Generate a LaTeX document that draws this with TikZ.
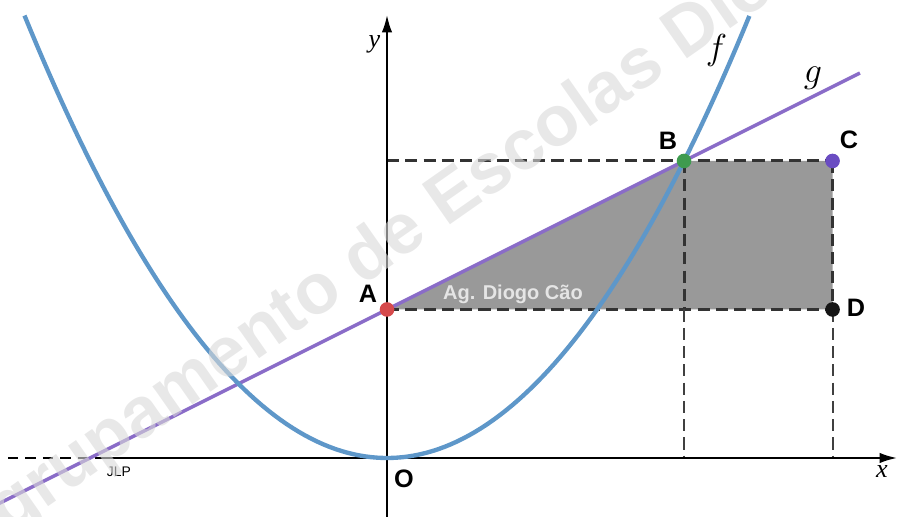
\documentclass[tikz,border=0pt]{standalone}
\usepackage{fontspec}
\setsansfont{Liberation Sans}
\newfontfamily\timesfont{Liberation Serif}
\usepackage{xcolor}
\usepackage{tikz}
\usetikzlibrary{arrows.meta,positioning}
\definecolor{curvef}{HTML}{5E97C9}
\definecolor{lineg}{HTML}{8A6CC8}
\definecolor{ptA}{HTML}{D64A4C}
\definecolor{ptB}{HTML}{3E9B4F}
\definecolor{ptC}{HTML}{6A4CC2}
\definecolor{ptD}{HTML}{151515}

\begin{document}
\begin{tikzpicture}[
          x=3cm, y=3cm,
          lbl/.style={font=\fontsize{14.5}{16}\selectfont\sffamily\bfseries},
          axlbl/.style={font=\fontsize{15}{16}\selectfont\timesfont\itshape},
          fnlbl/.style={font=\fontsize{22}{24}\selectfont},
          guide/.style={draw=black!80, line width=1.7pt, dash pattern=on 7pt off 3.5pt},
          guidethin/.style={draw=black!75, line width=1.1pt, dash pattern=on 7pt off 3.5pt},
          axis/.style={draw=black, line width=1.1pt},
          pt/.style={circle, inner sep=0pt, minimum size=8.4pt},
          region/.style={fill=black!40}
      ]
        % Frame
        \useasboundingbox (-2.606,-0.397) rectangle (3.434,3.084);
        \clip (-2.606,-0.397) rectangle (3.434,3.084);

        % Points
        \coordinate (O) at (0,0);
        \coordinate (A) at (0,1);
        \coordinate (B) at (2,2);
        \coordinate (C) at (3,2);
        \coordinate (D) at (3,1);
        \coordinate (Y2) at (0,2);
        \coordinate (B1) at (2,1);
        \coordinate (X2) at (2,0);
        \coordinate (X3) at (3,0);

        % Shaded region
        \fill[region] (A) -- (B) -- (C) -- (D) -- cycle;

        % Guide lines
        \draw[guide] (Y2) -- (C);
        \draw[guide] (A) -- (D);
        \draw[guide] (C) -- (D);
        \draw[guide] (B) -- (B1);
        \draw[guidethin] (B1) -- (X2);
        \draw[guidethin] (D) -- (X3);

        % Axes
        \coordinate (xS) at (-2.552,0);
        \coordinate (xL) at (-1.966,0);
        \coordinate (xR) at (3.434,0);
        \coordinate (yB) at (0,-0.397);
        \coordinate (yT) at (0,2.983);
        \draw[axis, dash pattern=on 6pt off 4pt] (xS) -- (xL);
        \draw[axis, -{Latex[length=10pt,width=6pt]}] (xL) -- (xR);
        \draw[axis, -{Latex[length=10pt,width=6pt]}] (yB) -- (yT);

        % Graphs of g and f
        \draw[lineg, line width=2pt, domain=-2.7:3.185] plot (\x,{0.5*\x+1});
        \draw[curvef, line width=2.5pt, domain=-2.441:2.441, samples=120] plot (\x,{0.5*\x*\x});

        % Dots
        \node[pt, fill=ptA] (dA) at (A) {};
        \node[pt, fill=ptB] (dB) at (B) {};
        \node[pt, fill=ptC] (dC) at (C) {};
        \node[pt, fill=ptD] (dD) at (D) {};

        % Labels
        \node[lbl] (lA) at (-0.128,1.104) {A};
        \node[lbl] (lB) at (1.892,2.135) {B};
        \node[lbl] (lC) at (3.111,2.141) {C};
        \node[lbl] (lD) at (3.158,1.013) {D};
        \node[lbl] (lO) at (0.114,-0.141) {O};
        \node[axlbl] (lx) at (3.333,-0.094) {x};
        \node[axlbl] (ly) at (-0.084,2.788) {y};
        \node[fnlbl] (lf) at (2.219,2.747) {$f$};
        \node[fnlbl] (lg) at (2.869,2.559) {$g$};
        \node[font=\fontsize{8}{9}\selectfont\sffamily] (jlp) at (-1.805,-0.094) {JLP};
        \node[font=\fontsize{11.5}{13}\selectfont\sffamily\bfseries, text=black!10] (tag) at (0.848,1.104) {Ag. Diogo Cão};

        % Watermark
        \node[font=\fontsize{41}{41}\selectfont\sffamily\bfseries, text=black!15, text opacity=0.6,
              rotate=35, anchor=base west, inner sep=0pt] (wm) at (-2.835,-0.714) {Agrupamento de Escolas Diogo Cão};
      \end{tikzpicture}
\end{document}
